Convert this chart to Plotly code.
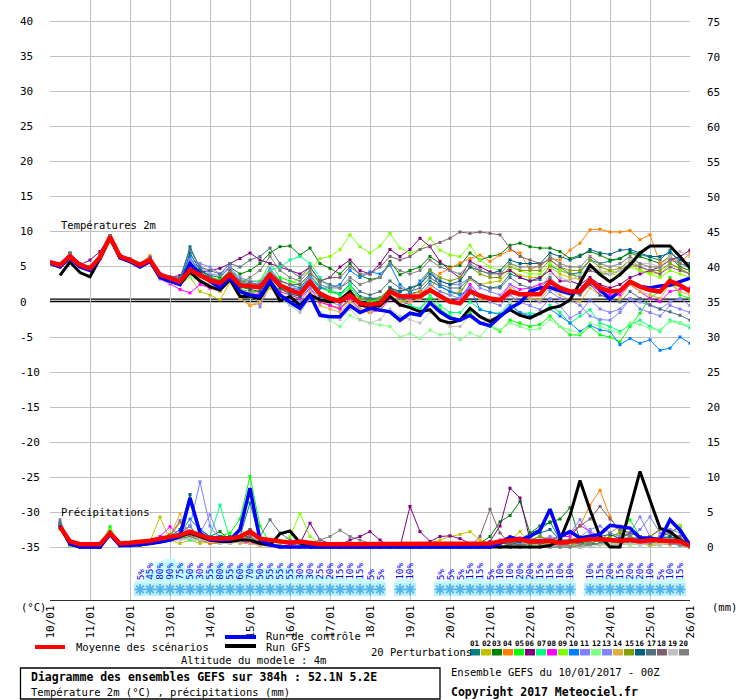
import plotly.graph_objects as go

# forecast steps (hours after 10/01/2017 00Z), one point every 6 h
steps = list(range(0, 385, 6))
day_labels = ['10/01', '11/01', '12/01', '13/01', '14/01', '15/01', '16/01', '17/01', '18/01',
              '19/01', '20/01', '21/01', '22/01', '23/01', '24/01', '25/01', '26/01']

# ---- 2 m temperature (deg C) ----
temp_mean = [5.7, 5.3, 6.5, 5.3, 4.8, 6.4, 9.3, 6.5, 6.0, 5.3, 6.0, 3.9, 3.4,
             2.9, 4.6, 3.9, 3.1, 2.7, 3.9, 2.4, 2.2, 2.1, 3.9, 2.4, 1.7, 1.2,
             2.9, 1.2, 0.5, 0.1, 1.0, -0.2, -0.4, -0.2, 1.5, 0.8, 0.8, 0.8, 1.7,
             0.8, 0.05, -0.2, 1.5, 0.9, 0.5, 0.3, 1.5, 1.1, 1.1, 1.1, 2.9, 2.0,
             1.5, 1.5, 3.1, 2.0, 1.5, 1.6, 2.9, 2.2, 1.7, 1.5, 3.0, 2.4, 1.5]
temp_control = [5.5, 5.0, 6.3, 5.0, 4.5, 6.2, 9.3, 6.3, 5.8, 5.0, 5.8, 3.5, 3.0,
                2.5, 5.5, 4.0, 3.0, 2.0, 3.5, 1.5, 1.0, 0.8, 3.0, 1.0, 0.0, -0.9,
                1.0, -1.9, -2.1, -2.1, -0.5, -1.5, -0.9, -1.1, -1.4, -2.6, -1.6, -1.9, -0.1,
                -1.4, -2.3, -2.6, -1.9, -3.0, -3.4, -2.1, -0.9, -0.1, 1.5, 2.0, 2.1, 1.6,
                1.2, 1.6, 3.1, 1.8, 0.4, 1.6, 2.9, 2.2, 2.0, 2.3, 2.4, 2.9, 3.4]
temp_gfs = [None, 3.8, 5.7, 4.2, 3.6, 6.2, 9.2, 6.3, 5.8, 5.2, 5.9, 3.6, 3.0,
            2.5, 4.3, 3.0, 2.2, 1.7, 3.2, 0.8, 0.8, 0.5, 2.8, 0.2, 0.8, -0.5,
            1.0, 0.3, 0.0, 0.3, 1.5, -0.4, -0.7, -0.5, 0.8, -0.4, -0.8, -1.4, -1.1,
            -2.6, -3.0, -2.6, -0.9, -2.1, -2.8, -1.9, -1.1, -1.9, -2.3, -1.6, -0.9, -0.6,
            0.3, 2.7, 5.3, 3.9, 2.9, 3.9, 5.3, 7.0, 8.0, 8.0, 8.0, 6.5, 4.8]

temp_p01 = [5.6, 5.4, 6.8, 5.4, 4.7, 6.6, 9.5, 6.6, 6.1, 5.2, 6.2, 3.7, 3.2,
            3.1, 7.9, 4.8, 3.6, 3.0, 4.4, 2.8, 2.6, 2.5, 4.5, 3.0, 2.5, 2.0,
            3.8, 2.2, 1.5, 1.2, 2.5, 0.8, 0.5, 0.6, 2.0, 1.0, 1.2, 1.5, 3.0,
            2.2, 1.5, 1.2, 3.5, 2.5, 2.0, 2.2, 4.0, 3.5, 3.0, 3.2, 5.2, 4.5,
            4.0, 4.2, 6.0, 5.5, 5.8, 6.2, 7.2, 6.8, 6.5, 6.0, 7.4, 5.5, 5.0]
temp_p02 = [5.5, 5.2, 6.4, 5.2, 4.6, 6.3, 9.0, 6.3, 5.8, 5.2, 5.9, 3.5, 2.8,
            2.5, 3.5, 1.5, 1.0, 0.3, 2.8, 1.5, 1.2, 1.5, 3.5, 2.0, 1.0, 0.5,
            2.5, 0.5, -0.5, -1.0, 0.2, -1.2, -1.5, -1.0, 1.0, 0.0, 0.5, 1.0, 2.5,
            1.5, 1.0, 1.5, 3.2, 2.5, 2.8, 3.0, 4.5, 3.8, 3.5, 3.5, 5.0, 4.0,
            3.5, 3.2, 5.0, 4.2, 4.5, 4.0, 5.5, 4.5, 4.2, 4.0, 5.5, 4.8, 4.0]
temp_p03 = [5.6, 5.1, 6.4, 5.2, 4.7, 6.3, 9.1, 6.4, 5.9, 5.1, 6.0, 3.6, 3.3,
            3.0, 5.5, 4.5, 3.8, 3.5, 5.0, 4.0, 4.5, 5.5, 7.0, 7.9, 8.0, 6.7,
            7.7, 5.5, 4.8, 4.0, 5.5, 3.8, 3.2, 3.5, 5.8, 3.9, 4.5, 5.0, 6.5,
            5.5, 5.0, 5.2, 7.0, 6.0, 6.5, 6.8, 8.1, 8.4, 7.9, 7.7, 7.7, 7.2,
            6.2, 6.7, 7.2, 6.7, 6.0, 6.2, 7.0, 6.5, 6.0, 5.5, 6.5, 5.0, 4.5]
temp_p04 = [5.7, 5.4, 6.6, 5.4, 4.9, 6.8, 9.4, 6.7, 6.2, 5.5, 6.6, 3.8, 3.2,
            2.5, 4.0, 3.0, 2.0, 1.5, 3.0, 0.5, -0.5, -0.2, 2.5, 0.8, 0.0, -0.3,
            1.5, 0.0, -0.5, -0.8, 0.5, -0.3, -0.5, 0.5, 1.5, 0.5, 1.0, 1.5, 1.7,
            4.1, 4.8, 5.6, 6.2, 6.7, 5.8, 6.7, 7.4, 7.0, 4.6, 5.3, 6.2, 6.0,
            7.4, 8.4, 10.3, 10.4, 10.0, 10.0, 10.2, 8.9, 9.6, 5.5, 6.5, 5.5, 7.0]
temp_p05 = [5.8, 5.5, 6.7, 5.5, 5.0, 6.6, 9.0, 6.4, 6.0, 5.4, 6.1, 4.0, 3.5,
            3.0, 5.0, 4.0, 3.5, 3.2, 4.5, 3.2, 3.0, 3.0, 5.5, 3.5, 3.0, 2.5,
            4.0, 2.0, 1.5, 1.0, 2.0, 0.5, 0.0, 0.5, 2.0, 0.5, -0.5, -1.0, 0.5,
            -1.0, -2.0, -2.5, -1.5, -3.0, -3.5, -4.2, -2.6, -3.0, -3.5, -3.2, -2.0, -3.5,
            -4.7, -4.7, -3.5, -4.7, -5.0, -5.7, -3.5, -1.6, 0.6, 1.5, 3.5, 1.0, 0.5]
temp_p06 = [5.6, 5.2, 6.9, 5.3, 6.0, 7.2, 9.5, 6.6, 6.1, 5.4, 6.3, 4.0, 3.5,
            3.8, 4.5, 4.2, 4.5, 4.8, 5.5, 6.2, 7.0, 6.0, 5.5, 5.0, 4.5, 4.0,
            5.0, 3.0, 3.5, 5.0, 6.0, 4.5, 4.0, 5.5, 7.5, 6.5, 7.5, 9.1, 7.9,
            5.8, 4.5, 3.4, 5.8, 5.0, 4.3, 4.0, 4.5, 3.5, 3.0, 3.5, 4.5, 3.0,
            3.0, 2.5, 3.5, 2.5, 2.0, 2.5, 3.5, 4.0, 4.5, 5.0, 6.0, 6.5, 7.4]
temp_p07 = [5.5, 5.3, 6.5, 5.1, 4.7, 6.4, 9.2, 6.5, 6.0, 5.3, 6.0, 3.5, 3.0,
            2.8, 5.0, 3.5, 3.0, 2.5, 4.0, 2.0, 2.0, 2.5, 4.5, 5.0, 6.0, 6.5,
            5.5, 3.5, 2.0, 1.0, 2.5, 0.5, 0.0, 0.3, 2.0, 0.5, -0.5, -1.0, 1.0,
            -0.5, -1.5, -1.5, 0.0, -1.0, -1.5, -1.6, 0.0, -1.6, -1.6, -1.7, -0.5, -1.5,
            -3.0, -2.0, -1.1, -3.0, -3.5, -4.2, -3.3, -2.6, -3.5, -4.2, -2.6, -3.0, -3.7]
temp_p08 = [5.7, 5.3, 6.5, 5.2, 4.8, 6.2, 9.2, 6.4, 5.9, 5.3, 5.9, 3.3, 2.6,
            1.8, 1.3, 2.5, 2.0, 1.8, 3.0, 1.5, 1.0, 1.2, 3.0, 1.5, 1.0, 0.5,
            2.0, 0.0, -0.5, -1.0, 0.5, -1.0, -1.5, -1.2, 0.5, -0.5, 0.0, 0.5, 1.5,
            0.5, 0.0, 0.5, 2.5, 1.0, 0.5, 0.5, 2.5, 1.8, 2.0, 2.5, 3.1, 2.0,
            1.5, 1.2, 2.5, 1.5, 1.0, 1.0, 2.5, 1.5, 0.5, 0.05, 1.5, 1.8, 2.0]
temp_p09 = [5.6, 5.3, 6.6, 5.3, 4.8, 6.3, 9.3, 6.5, 6.0, 5.3, 6.0, 3.8, 3.3,
            2.7, 4.5, 3.8, 3.0, 2.5, 3.5, 2.0, 2.0, 2.5, 4.0, 3.0, 2.5, 3.5,
            4.5, 6.2, 6.5, 7.5, 9.6, 7.9, 7.0, 8.0, 9.8, 7.7, 7.0, 7.5, 9.1,
            7.4, 6.7, 6.5, 8.1, 6.0, 5.0, 4.5, 5.5, 4.5, 4.0, 4.0, 5.5, 4.5,
            4.0, 3.8, 5.0, 4.2, 4.0, 3.8, 5.0, 4.5, 4.0, 3.5, 4.5, 4.0, 3.5]
temp_p10 = [5.6, 5.2, 6.4, 5.3, 4.8, 6.4, 9.3, 6.4, 5.9, 5.2, 5.9, 3.7, 3.3,
            2.8, 6.5, 4.0, 3.2, 2.8, 3.8, 2.5, 2.2, 2.0, 3.5, 2.5, 2.0, 1.8,
            3.5, 2.0, 2.0, 2.5, 4.5, 3.5, 4.3, 4.0, 5.3, 2.5, 1.3, 3.0, 4.6,
            2.2, 1.5, 1.0, 2.0, -1.1, -1.5, -1.8, -0.5, -1.5, -2.0, -1.6, -1.0, -2.0,
            -3.0, -4.2, -3.3, -4.0, -4.2, -6.1, -5.2, -5.9, -5.4, -6.9, -6.6, -5.0, -5.9]
temp_p11 = [5.6, 5.3, 6.5, 5.3, 4.8, 6.4, 9.2, 6.5, 6.0, 5.3, 6.0, 3.8, 3.6,
            3.5, 6.0, 5.5, 5.0, 4.0, 5.0, 3.0, 2.0, -0.7, 2.5, 1.0, 0.5, 0.0,
            2.0, 0.5, 0.0, -0.5, 1.0, -0.5, -1.0, -0.5, 1.5, 0.5, 0.5, 1.0, 2.5,
            1.5, 1.0, 0.5, 2.0, 1.0, 0.0, -0.5, 1.0, 0.0, -0.5, -1.1, 0.5, -0.5,
            -2.3, -1.5, 0.3, -1.0, -1.5, -1.0, 0.5, -1.0, -1.5, -2.0, -0.5, -1.0, -1.5]
temp_p12 = [5.5, 5.0, 6.3, 5.1, 4.6, 6.2, 8.5, 6.3, 5.8, 5.1, 5.8, 3.4, 2.8,
            2.5, 3.5, 3.0, 2.5, 2.0, 3.0, 1.5, 1.0, 0.5, 2.0, 0.5, -0.5, -1.0,
            0.5, -1.5, -2.6, -3.5, -1.9, -2.6, -3.0, -3.3, -3.5, -5.0, -4.5, -5.2, -4.0,
            -4.7, -4.5, -5.4, -4.4, -5.0, -3.3, -4.0, -3.0, -3.5, -4.0, -3.8, -2.5, -3.5,
            -4.0, -4.5, -3.0, -3.5, -4.0, -4.5, -3.0, -3.2, -3.8, -4.0, -2.8, -3.0, -3.3]
temp_p13 = [5.7, 5.4, 6.6, 5.4, 4.9, 6.5, 9.4, 6.6, 6.1, 5.4, 6.1, 4.0, 3.5,
            3.2, 5.8, 5.0, 4.0, 3.8, 4.8, 3.5, 3.0, 2.8, 4.8, 3.0, 2.5, 1.5,
            3.5, 1.0, 0.5, 0.0, 1.5, -0.5, -1.0, -0.8, 1.5, 1.5, 2.0, 2.5, 4.5,
            3.0, 2.5, 2.5, 3.5, 2.0, 1.5, 1.0, 2.5, 1.0, 0.5, 0.0, 1.5, 0.5,
            0.3, -0.5, -2.0, -2.5, -2.6, -1.5, 0.5, 0.0, -0.5, -1.0, 0.0, 0.5, -0.5]
temp_p14 = [5.6, 5.2, 6.4, 5.2, 4.7, 6.3, 9.2, 6.4, 5.9, 5.2, 6.2, 3.5, 3.0,
            2.6, 4.0, 3.0, 2.5, 1.5, 2.8, 0.5, -0.4, 0.0, 2.0, 0.5, 0.0, -0.5,
            1.5, -0.5, -1.0, -1.5, 0.0, -1.0, -1.5, -1.0, 1.0, 0.0, 0.0, 0.5, 2.0,
            0.5, 0.0, 0.0, 1.5, 0.5, 0.3, 0.5, 2.0, 1.0, 0.5, 0.3, 2.0, 1.0,
            0.3, 0.0, 2.0, 1.0, 0.5, 0.5, 2.5, 1.5, 1.0, 0.5, 2.5, 1.5, 1.0]
temp_p15 = [5.6, 5.3, 6.5, 5.3, 4.8, 6.4, 9.2, 6.5, 6.0, 5.3, 6.0, 3.8, 3.2,
            2.8, 4.5, 3.5, 2.8, 2.2, 3.5, 1.8, 1.5, 1.5, 3.2, 1.8, 1.2, 0.8,
            2.5, 1.0, 0.5, 0.5, 1.5, 0.5, 0.2, 0.5, 2.0, 1.5, 2.0, 2.5, 4.5,
            3.5, 3.0, 3.5, 5.0, 4.0, 3.5, 3.5, 5.0, 4.5, 4.5, 4.5, 6.0, 5.0,
            4.5, 4.5, 6.0, 5.0, 4.5, 4.8, 6.0, 5.0, 4.5, 4.5, 5.5, 4.8, 4.0]
temp_p16 = [5.5, 5.2, 6.6, 5.3, 4.7, 6.3, 9.3, 6.4, 5.9, 5.3, 6.0, 3.7, 3.2,
            2.8, 7.0, 4.5, 3.5, 2.8, 4.0, 2.2, 1.8, 1.5, 3.5, 2.0, 1.2, 0.8,
            2.5, 0.8, 0.2, 0.0, 1.0, 0.0, -0.3, 0.0, 2.0, 1.5, 2.0, 2.5, 4.0,
            3.0, 2.5, 3.0, 5.0, 4.5, 4.0, 4.5, 6.0, 5.5, 5.5, 5.5, 7.0, 6.5,
            6.0, 6.5, 7.5, 7.0, 6.8, 7.4, 7.5, 7.0, 6.5, 6.5, 7.0, 6.0, 5.5]
temp_p17 = [5.7, 5.4, 7.0, 5.5, 5.0, 6.6, 9.5, 6.6, 6.1, 5.4, 6.4, 4.0, 3.6,
            3.5, 7.5, 5.0, 4.5, 4.0, 5.5, 5.0, 6.0, 6.5, 7.7, 5.5, 4.5, 3.5,
            5.0, 3.0, 2.5, 2.0, 3.0, 1.5, 1.0, 1.5, 3.0, 2.0, 1.5, 2.0, 3.5,
            2.5, 2.0, 2.0, 3.5, 2.5, 2.0, 2.0, 3.5, 2.5, 2.0, 2.0, 3.5, 2.0,
            1.5, 1.0, 2.5, 1.0, 0.5, 0.0, 1.5, 0.5, -0.4, -1.0, -1.4, -1.9, -2.6]
temp_p18 = [5.8, 5.5, 7.0, 5.4, 5.0, 6.6, 9.4, 6.6, 6.0, 5.4, 6.2, 3.9, 3.4,
            3.0, 4.8, 4.0, 3.5, 3.0, 4.5, 3.0, 2.8, 2.5, 4.0, 3.0, 2.5, 2.5,
            4.0, 3.0, 3.5, 3.5, 5.0, 4.0, 4.0, 5.0, 6.5, 6.0, 6.5, 7.5, 8.0,
            8.5, 9.1, 10.0, 9.8, 10.0, 9.8, 9.6, 7.7, 6.5, 6.0, 5.5, 6.0, 5.0,
            4.0, 3.5, 4.5, 4.0, 4.0, 4.5, 5.5, 5.0, 4.5, 4.0, 5.0, 4.5, 4.0]
temp_p19 = [5.6, 5.3, 6.5, 5.3, 4.8, 6.3, 9.1, 6.5, 6.0, 5.3, 6.0, 3.6, 3.1,
            2.8, 4.0, 3.2, 2.5, 2.0, 3.0, 1.2, 0.8, 0.5, 2.5, 0.5, -0.5, -1.5,
            0.5, -1.5, -2.0, -2.5, -1.0, -2.5, -3.0, -2.5, -1.0, -2.0, -2.5, -3.0, -1.5,
            -2.5, -3.5, -3.5, -2.0, -3.0, -2.5, -2.0, 0.0, 1.0, 1.5, 2.0, 4.0, 3.5,
            3.0, 3.9, 5.0, 4.5, 4.0, 4.5, 6.0, 5.5, 5.5, 5.0, 6.5, 7.2, 6.5]
temp_p20 = [5.7, 5.4, 6.8, 5.4, 4.9, 6.5, 9.4, 6.6, 6.1, 5.4, 6.2, 3.9, 3.4,
            3.0, 5.0, 4.0, 3.2, 2.8, 4.2, 2.8, 3.5, 4.5, 6.5, 4.5, 3.5, 3.0,
            4.5, 2.5, 2.0, 2.0, 3.5, 2.5, 3.0, 3.5, 5.5, 4.5, 4.0, 4.5, 6.0,
            5.0, 4.5, 4.0, 5.5, 4.5, 4.0, 4.0, 5.5, 5.0, 5.0, 5.0, 6.5, 5.5,
            5.0, 5.0, 6.5, 5.5, 5.0, 5.5, 6.5, 5.5, 5.0, 5.0, 6.0, 5.5, 5.0]

# ---- precipitation (mm / 6 h) ----
prec_mean = [None, 2.9, 0.8, 0.4, 0.4, 0.4, 2.0, 0.5, 0.6, 0.7, 0.9, 1.2, 1.5,
             1.7, 2.2, 1.7, 1.2, 1.2, 1.2, 1.5, 2.2, 1.2, 1.0, 0.8, 0.6, 0.8,
             0.6, 0.4, 0.4, 0.4, 0.4, 0.4, 0.5, 0.4, 0.4, 0.4, 0.5, 0.4, 0.4,
             0.4, 0.4, 0.4, 0.4, 0.4, 0.5, 0.8, 0.9, 1.1, 0.8, 0.8, 0.9, 0.6,
             0.8, 1.0, 1.1, 1.1, 1.0, 0.9, 1.0, 0.8, 1.0, 0.9, 0.9, 0.8, 0.2]
prec_control = [None, 3.0, 0.5, 0, 0, 0, 1.8, 0.2, 0.2, 0.3, 0.5, 0.7, 1.0,
                1.5, 7.0, 2.0, 1.0, 1.0, 1.0, 2.5, 8.4, 1.0, 0.3, 0, 0, 0,
                0, 0, 0, 0, 0, 0, 0, 0, 0, 0, 0, 0, 0,
                0, 0, 0, 0, 0, 0, 0.5, 1.4, 1.0, 1.5, 2.4, 5.4, 1.5,
                2.2, 1.3, 1.5, 1.8, 3.1, 2.9, 2.7, 1.3, 1.3, 1.0, 3.9, 2.4, 0.3]
prec_gfs = [None, 3.0, 0.4, 0, 0, 0, 2.0, 0.2, 0.3, 0.3, 0.5, 0.8, 1.0,
            1.5, 2.0, 1.5, 1.0, 0.8, 0.8, 1.0, 1.0, 0.5, 0.3, 1.9, 2.3, 0.6,
            0, 0, 0, 0, 0, 0, 0, 0, 0, 0, 0, 0, 0,
            0, 0, 0, 0, 0, 0, 0, 0, 0, 0, 0, 0.2, 1.0,
            4.5, 9.5, 5.3, 1.5, 0, 0, 5.5, 10.8, 6.7, 2.7, 2.2, 1.0, 0.3]

prec_p01 = [None, 3.2, 0.3, 0, 0, 0, 1.8, 0.2, 0.3, 0.5, 0.8, 1.0, 1.5,
            2.0, 3.0, 1.0, 0.5, 1.0, 0.5, 1.5, 6.3, 1.0, 0.5, 0.2, 0, 0,
            0, 0, 0, 0, 0, 0, 0, 0, 0, 0, 0, 0, 0,
            0, 0, 0, 0, 0, 0, 0.5, 0.5, 1.0, 2.0, 2.5, 3.6, 1.0,
            0.8, 0.5, 1.0, 1.5, 1.0, 0.5, 1.5, 1.0, 0.5, 1.0, 1.5, 1.0, 0]
prec_p02 = [None, 2.8, 0.3, 0, 0, 0, 1.5, 0.1, 0.2, 0.4, 0.8, 4.3, 1.0,
            0.5, 1.0, 0.5, 0.8, 0.5, 0.5, 1.0, 1.5, 0.5, 0.2, 0, 0, 0,
            0, 0, 0, 0, 0, 0, 0, 0, 0, 0, 0, 0, 0.5,
            1.0, 1.5, 1.8, 2.2, 1.0, 0.5, 0.5, 1.0, 2.2, 0.5, 0.3, 0.5, 0.3,
            0.2, 0.2, 0.5, 0.3, 0.2, 0.5, 0.3, 0.5, 0.2, 0.3, 0.5, 0.3, 0]
prec_p03 = [None, 3.0, 0.2, 0, 0, 0, 2.2, 0.2, 0.3, 0.3, 0.5, 0.8, 1.2,
            1.5, 2.0, 1.5, 1.5, 2.2, 1.0, 1.5, 1.5, 0.5, 0.2, 0, 0, 0,
            0, 0, 0, 0, 0, 0, 0, 0, 0, 0, 0, 0, 0,
            0, 0, 0, 0, 0.5, 1.5, 3.6, 4.5, 6.5, 2.0, 3.0, 3.5, 4.0,
            5.6, 1.0, 0.5, 0.5, 0.3, 0.5, 1.0, 0.5, 0.3, 0.5, 1.0, 0.5, 0]
prec_p04 = [None, 3.0, 0.3, 0, 0, 0, 2.0, 0.1, 0.2, 0.3, 0.5, 1.0, 1.5,
            3.5, 1.5, 1.0, 0.5, 0.5, 1.0, 2.5, 1.5, 0.5, 0.2, 0.1, 0, 0,
            0, 0, 0, 0, 0, 0, 0, 0, 0, 0, 0, 0, 0,
            0, 0, 0, 0, 0, 0, 0, 0, 0.5, 0.3, 0.5, 0.8, 1.5,
            2.0, 3.0, 6.0, 8.1, 4.3, 2.0, 0.5, 1.0, 1.5, 0.5, 0.3, 0.5, 0]
prec_p05 = [None, 2.5, 0.2, 0, 0, 0, 2.9, 0.1, 0.2, 0.3, 0.5, 0.8, 1.0,
            1.5, 2.0, 1.5, 1.0, 1.5, 2.0, 4.0, 10.1, 3.0, 0.5, 0.2, 0, 0,
            0, 0, 0, 0, 0, 0, 0, 0, 0, 0, 0, 0, 0,
            0, 0, 0, 0, 0, 0, 0, 0, 0.5, 0.3, 0.5, 0.5, 0.5,
            0.5, 0.5, 0.5, 1.0, 1.5, 2.0, 3.9, 1.5, 0.5, 1.0, 0.5, 0.3, 0]
prec_p06 = [None, 2.8, 0.3, 0, 0, 0, 1.5, 0.2, 0.2, 0.3, 0.5, 0.8, 1.8,
            1.5, 1.8, 1.0, 0.8, 1.0, 1.2, 1.0, 0.8, 0.3, 0.2, 0.1, 0.3, 0.5,
            3.4, 1.0, 0.5, 0.3, 1.0, 1.5, 2.2, 1.0, 0, 0, 5.8, 2.2, 0.8,
            1.5, 1.6, 1.2, 0.5, 0.3, 0.8, 3.0, 8.4, 7.0, 1.0, 0.5, 0.3, 0.3,
            0.3, 0.5, 0.3, 0.5, 1.0, 0.5, 1.0, 0.5, 1.5, 2.5, 2.0, 3.0, 0]
prec_p07 = [None, 2.6, 0.2, 0, 0, 0, 2.0, 0.2, 0.3, 0.5, 0.8, 1.0, 1.2,
            1.5, 1.0, 1.0, 1.5, 6.0, 1.0, 1.5, 2.0, 1.0, 0.3, 0, 0, 0,
            0, 0, 0, 0, 0, 0, 0, 0, 0, 0, 0, 0, 0,
            0, 0, 0, 0, 0, 0, 0, 0, 0, 0.5, 0.3, 0.5, 0.5,
            0.5, 0.3, 0.5, 1.0, 0.5, 0.3, 0.5, 0.3, 0.5, 0.3, 0.5, 0.3, 0]
prec_p08 = [None, 3.0, 0.3, 0, 0, 0, 1.8, 0.2, 0.3, 0.5, 0.8, 1.5, 2.9,
            1.5, 1.5, 1.0, 1.0, 0.8, 1.0, 0.8, 0.5, 0.3, 0.1, 0, 0, 0,
            0, 0, 0, 0, 0, 0, 0, 0, 0, 0, 0, 0, 0,
            0, 0, 0, 0, 0.3, 0.5, 1.0, 1.5, 1.3, 1.0, 0.8, 1.0, 1.5,
            1.5, 3.1, 2.2, 1.5, 1.0, 1.5, 1.0, 0.5, 0.5, 1.0, 0.5, 0.3, 0]
prec_p09 = [None, 2.5, 0.2, 0, 0, 0, 2.5, 0.1, 0.2, 0.3, 0.5, 0.8, 1.0,
            1.5, 1.5, 1.2, 1.0, 1.5, 1.0, 1.0, 2.0, 0.5, 0.2, 0.5, 1.5, 4.8,
            1.5, 0.5, 0, 0, 0, 0, 0, 0, 0, 0, 0, 0, 0,
            0, 0, 0, 0, 0, 0, 0, 0, 0, 0, 0, 0, 0,
            0, 0, 0.3, 0.5, 1.0, 0.5, 1.5, 1.0, 0.5, 1.0, 1.5, 3.1, 0]
prec_p10 = [None, 3.5, 0.3, 0, 0, 0, 1.5, 0.2, 0.3, 0.5, 0.8, 1.2, 1.5,
            2.0, 4.0, 2.5, 1.5, 1.5, 1.2, 1.5, 2.0, 0.5, 0.2, 0, 0, 0,
            0, 0, 0, 0, 0, 0, 0, 0, 0, 0, 0, 0, 0,
            0, 0, 0, 0, 0, 0, 0, 0.5, 0.8, 1.0, 1.5, 1.0, 0.5,
            0.5, 1.0, 1.5, 1.0, 0.5, 1.0, 0.5, 1.0, 1.5, 0.5, 0.5, 0.3, 0]
prec_p11 = [None, 2.8, 0.3, 0, 0, 0, 1.8, 0.2, 0.2, 0.3, 0.5, 1.0, 1.5,
            2.0, 3.0, 9.3, 3.0, 1.0, 0.8, 1.0, 1.5, 0.5, 0.2, 0, 0, 0,
            0, 0, 0, 0, 0, 0, 0, 0, 0, 0, 0, 0, 0,
            0, 0, 0, 0, 0, 0, 0, 0.5, 0.5, 1.0, 0.5, 1.0, 1.5,
            2.0, 3.9, 2.0, 1.0, 0.5, 1.0, 1.5, 2.5, 4.3, 2.0, 1.0, 0.5, 0]
prec_p12 = [None, 3.0, 0.2, 0, 0, 0, 2.0, 0.2, 0.2, 0.3, 0.5, 0.8, 1.0,
            1.2, 1.5, 1.0, 1.0, 1.2, 1.0, 1.5, 2.0, 0.5, 0.2, 0, 0, 0,
            0, 0, 0, 0, 0, 0, 0, 0, 0, 0, 0, 0, 0,
            0, 0, 0, 0, 0, 0, 0, 0, 0, 0, 0, 0, 0,
            0, 0, 0.3, 0.5, 0.3, 0.5, 0.3, 0.5, 0.3, 0.5, 1.0, 0.5, 0]
prec_p13 = [None, 3.2, 0.3, 0, 0, 0, 1.8, 0.2, 0.3, 0.5, 0.8, 1.0, 1.2,
            1.5, 2.0, 2.0, 4.6, 1.0, 0.8, 1.0, 1.5, 0.5, 0.2, 0, 0, 0,
            0, 0, 0, 0, 0, 0, 0, 0, 0, 0, 0, 0, 0,
            0, 0, 0, 0, 0, 0, 0, 0.3, 0.5, 0.8, 1.0, 1.5, 1.0,
            0.8, 1.5, 2.5, 3.0, 2.0, 1.5, 2.0, 4.3, 1.5, 1.0, 2.5, 2.0, 0]
prec_p14 = [None, 2.7, 0.2, 0, 0, 0, 1.6, 0.1, 0.2, 0.3, 0.5, 1.0, 1.5,
            4.8, 1.5, 1.0, 0.8, 0.8, 1.0, 0.5, 0.5, 0.2, 0.1, 0, 0, 0,
            0, 0, 0, 0, 0, 0, 0, 0, 0, 0, 0, 0, 0,
            0, 0, 0, 0, 0, 0, 0, 0, 0.3, 0.5, 0.3, 0.5, 0.5,
            0.5, 0.3, 0.5, 1.0, 0.5, 0.3, 1.0, 0.5, 0.3, 0.5, 0.5, 0.3, 0]
prec_p15 = [None, 2.9, 0.2, 0, 0, 0, 1.8, 0.2, 0.3, 0.5, 0.8, 1.2, 1.8,
            1.5, 2.0, 1.5, 1.2, 1.0, 0.8, 1.5, 1.0, 0.5, 0.2, 0, 0, 0,
            0, 0, 0, 0, 0, 0, 0, 0, 0, 0, 0, 0, 0,
            0, 0, 0, 0, 0, 0, 0, 0.5, 0.8, 1.0, 1.5, 1.0, 0.8,
            1.0, 1.5, 1.0, 0.8, 1.5, 2.0, 1.5, 1.0, 1.5, 2.5, 1.5, 1.0, 0]
prec_p16 = [None, 3.0, 0.3, 0, 0, 0, 2.0, 0.2, 0.3, 0.5, 0.8, 1.2, 1.5,
            2.5, 7.5, 2.5, 1.5, 1.5, 1.5, 1.5, 2.5, 0.8, 0.2, 0, 0, 0,
            0, 0, 0, 0, 0, 0, 0, 0, 0, 0, 0, 0, 0,
            0, 0, 0, 0, 0, 0, 0, 0.3, 0.8, 1.5, 2.0, 2.5, 1.0,
            1.0, 0.8, 1.2, 1.5, 1.8, 1.2, 2.0, 1.5, 1.0, 1.2, 1.5, 1.0, 0]
prec_p17 = [None, 3.4, 0.3, 0, 0, 0, 2.0, 0.2, 0.3, 0.4, 0.6, 1.0, 1.2,
            1.5, 2.0, 1.5, 1.5, 1.0, 1.0, 1.5, 2.5, 1.5, 3.9, 2.0, 1.0, 0.5,
            0.2, 0, 0, 0, 0, 0, 0, 0, 0, 0, 0, 0, 0,
            0, 0, 0, 0, 0, 0, 0, 0, 0, 0, 0, 0, 0,
            0, 0, 0.3, 0.5, 1.0, 0.8, 1.0, 1.5, 1.0, 0.8, 1.0, 1.5, 0]
prec_p18 = [None, 3.0, 0.3, 0, 0, 0, 1.8, 0.2, 0.3, 0.5, 0.5, 0.8, 1.0,
            1.2, 1.5, 1.0, 1.0, 0.8, 1.0, 1.0, 1.5, 0.5, 0.2, 0, 0, 0,
            0, 0, 0, 0, 0, 0, 0, 0, 0, 0, 0, 0, 0,
            0, 0, 0, 0, 1.5, 5.4, 2.0, 0.5, 0.3, 0.5, 0.5, 1.0, 1.5,
            2.0, 3.0, 4.0, 5.8, 4.0, 2.5, 2.0, 1.5, 1.0, 1.5, 2.0, 1.5, 0]
prec_p19 = [None, 2.6, 0.2, 0, 0, 0, 1.5, 0.1, 0.2, 0.3, 0.5, 0.8, 1.0,
            1.0, 1.2, 1.0, 0.8, 0.5, 0.5, 0.8, 1.0, 0.3, 0.1, 0, 0, 0,
            0, 0, 0, 0, 0, 0, 0, 0, 0, 0, 0, 0, 0,
            0, 0, 0, 0, 0, 0, 0, 0, 0, 0, 0, 0, 0,
            0, 0, 0, 0.3, 0.5, 0.3, 0.5, 0.3, 0.5, 0.3, 0.5, 0.3, 0]
prec_p20 = [None, 3.9, 0.4, 0, 0, 0, 2.2, 0.2, 0.3, 0.5, 0.8, 1.0, 1.5,
            3.8, 2.0, 1.5, 1.2, 1.0, 1.0, 1.5, 2.0, 1.0, 0.5, 0.2, 0, 0,
            0.5, 1.0, 1.5, 2.4, 1.5, 1.0, 0.5, 0.3, 0, 0, 0, 0, 0,
            0, 0, 0, 0, 0, 0, 0, 0, 0, 0, 0, 0, 0,
            0, 0.3, 0.5, 1.0, 2.0, 3.0, 1.5, 1.0, 0.5, 1.0, 0.5, 0.3, 0]

# probability of precipitation (%) written under the chart
precip_prob = [None, None, None, None, None, None, None, None, None, 5, 45, 80, 90,
               75, 50, 30, 55, 80, 55, 60, 70, 50, 55, 55, 55, 30,
               30, 25, 20, 15, 10, 15, 5, 5, None, 10, 10, None, None,
               5, 5, 5, 15, 15, 5, 10, 10, 20, 20, 15, 15, 10, 10,
               None, 10, 15, 20, 15, 20, 20, 10, 5, 10, 15, None]

pert_names = ['01', '02', '03', '04', '05', '06', '07', '08', '09', '10',
              '11', '12', '13', '14', '15', '16', '17', '18', '19', '20']
pert_colors = ['#008080', '#c0c000', '#008000', '#ff8000', '#00ff00', '#800080', '#00ff80',
               '#ff00ff', '#80ff00', '#0080ff', '#8080ff', '#80ff80', '#8484ff', '#e0b040',
               '#80a000', '#006080', '#507080', '#806070', '#c0c0c0', '#808080']
temp_perts = [temp_p01, temp_p02, temp_p03, temp_p04, temp_p05, temp_p06, temp_p07,
              temp_p08, temp_p09, temp_p10, temp_p11, temp_p12, temp_p13, temp_p14,
              temp_p15, temp_p16, temp_p17, temp_p18, temp_p19, temp_p20]
prec_perts = [prec_p01, prec_p02, prec_p03, prec_p04, prec_p05, prec_p06, prec_p07,
              prec_p08, prec_p09, prec_p10, prec_p11, prec_p12, prec_p13, prec_p14,
              prec_p15, prec_p16, prec_p17, prec_p18, prec_p19, prec_p20]

# ---------------- layout helpers (pixels -> paper) ----------------
W, H = 740, 700
ML, MR, MT, MB = 50, 50, 0, 100
PW, PH = W - ML - MR, H - MT - MB
Y_TOP, Y_BOT = 43.14, -42.57      # 7 px per degree
PRECIP_SHIFT = 35                 # 0 mm sits on -35 deg C
FONT = 'DejaVu Sans Mono'


def px(x):
    return (x - ML) / PW


def py(y):
    return (H - MB - y) / PH


fig = go.Figure()

# ensemble members
for name, col, t, p in zip(pert_names, pert_colors, temp_perts, prec_perts):
    for vals, ax in ((t, 'y'), (p, 'y2')):
        fig.add_trace(go.Scatter(x=steps, y=vals, yaxis=ax, mode='lines+markers',
                                 line=dict(color=col, width=1),
                                 marker=dict(symbol='square', size=3, color=col),
                                 showlegend=False, hoverinfo='skip'))

for vals, ax in ((temp_gfs, 'y'), (prec_gfs, 'y2')):
    fig.add_trace(go.Scatter(x=steps, y=vals, yaxis=ax, mode='lines',
                             line=dict(color='black', width=3), showlegend=False))
for vals, ax in ((temp_control, 'y'), (prec_control, 'y2')):
    fig.add_trace(go.Scatter(x=steps, y=vals, yaxis=ax, mode='lines',
                             line=dict(color='#0000ff', width=3.5), showlegend=False))
for vals, ax in ((temp_mean, 'y'), (prec_mean, 'y2')):
    fig.add_trace(go.Scatter(x=steps, y=vals, yaxis=ax, mode='lines',
                             line=dict(color='#ff0000', width=4.5), showlegend=False))

# precipitation probability strip under the chart
prob_x = [s for s, p in zip(steps, precip_prob) if p is not None]
prob_v = [p for p in precip_prob if p is not None]
fig.add_trace(go.Bar(x=prob_x, y=[v * 0.037 for v in prob_v], base=-40.0, width=6,
                     marker=dict(color='#c4ffff', line=dict(width=0)),
                     showlegend=False, hoverinfo='skip'))

shapes = []
# cyan band behind the snowflake chain, one per run of labelled steps
runs, cur = [], []
for s, p in zip(steps, precip_prob):
    if p is None:
        if cur:
            runs.append(cur)
        cur = []
    else:
        cur.append(s)
if cur:
    runs.append(cur)
for r in runs:
    shapes.append(dict(type='rect', xref='x', yref='y', x0=r[0] - 3.6, x1=r[-1] + 3.6,
                       y0=-42.0, y1=-40.1, fillcolor='#bdeefc', line=dict(width=0), layer='below'))
fig.add_trace(go.Scatter(x=prob_x, y=[-41.05] * len(prob_x), mode='markers',
                         marker=dict(symbol='asterisk-open', size=9, color='#52b4ea',
                                     line=dict(color='#52b4ea', width=1.8)),
                         showlegend=False, hoverinfo='skip'))

# double zero line
for yv in (0.1, 0.4):
    shapes.append(dict(type='line', xref='x', yref='y', x0=0, x1=384, y0=yv, y1=yv,
                       line=dict(color='black', width=1.2), layer='below'))

annotations = []
for s, p in zip(steps, precip_prob):
    if p is not None:
        annotations.append(dict(x=s, y=-40.05, xref='x', yref='y', text=f'{p}%',
                                textangle=-90, showarrow=False, xanchor='center',
                                yanchor='bottom',
                                font=dict(family=FONT, size=9.5, color='#0000ff')))

# left tick labels (left aligned as in the original)
for v in range(-35, 41, 5):
    annotations.append(dict(x=px(18), y=v, xref='paper', yref='y', text=str(v),
                            showarrow=False, xanchor='left', yanchor='middle',
                            font=dict(family=FONT, size=11, color='black')))


def txt(x, y, s, size=10.5, bold=False, anchor='left', color='black'):
    annotations.append(dict(x=px(x), y=py(y), xref='paper', yref='paper',
                            text=f'<b>{s}</b>' if bold else s, showarrow=False,
                            xanchor=anchor, yanchor='middle',
                            font=dict(family=FONT, size=size, color=color)))


txt(59, 225, 'Températures 2m')
txt(59, 512, 'Précipitations')
txt(19, 607, '(°C)')
txt(710, 607, '(mm)')

# legend
for x0, x1, y, col in ((35, 65, 647, '#ff0000'), (225, 256, 637, '#0000ff'), (225, 256, 646, 'black')):
    shapes.append(dict(type='line', xref='paper', yref='paper', x0=px(x0), x1=px(x1),
                       y0=py(y), y1=py(y), line=dict(color=col, width=4)))
txt(74, 647, 'Moyenne des scénarios')
txt(264, 636, 'Run de contrôle')
txt(264, 647, 'Run GFS')
txt(179, 660, 'Altitude du modele : 4m')
txt(369, 652, '20 Perturbations')
for k, (name, col) in enumerate(zip(pert_names, pert_colors)):
    x0 = 470 + 11 * k
    shapes.append(dict(type='rect', xref='paper', yref='paper', x0=px(x0), x1=px(x0 + 10),
                       y0=py(655.5), y1=py(649), fillcolor=col, line=dict(width=0)))
    txt(x0 + 5, 643, name, size=7.5, bold=True, anchor='center')

# footer box
shapes.append(dict(type='rect', xref='paper', yref='paper', x0=px(20.5), x1=px(440),
                   y0=py(699), y1=py(668), line=dict(color='black', width=1.3)))
txt(29, 677, 'Diagramme des ensembles GEFS sur 384h : 52.1N 5.2E', size=11.5, bold=True)
txt(29, 692, 'Température 2m (°C) , précipitations (mm)')
txt(449, 672, 'Ensemble GEFS du 10/01/2017 - 00Z')
txt(449, 692, 'Copyright 2017 Meteociel.fr', size=11.5, bold=True)

fig.update_layout(
    width=W, height=H, margin=dict(l=ML, r=MR, t=MT, b=MB),
    paper_bgcolor='white', plot_bgcolor='white', showlegend=False,
    barmode='overlay',
    xaxis=dict(range=[0, 384], tickvals=steps[::4], ticktext=day_labels, tickangle=-90,
               showgrid=True, gridcolor='#c0c0c0', gridwidth=1, zeroline=False,
               showline=True, linecolor='#303030', linewidth=1, ticks='',
               tickfont=dict(family=FONT, size=11, color='black')),
    yaxis=dict(range=[Y_BOT, Y_TOP], tickvals=list(range(-35, 41, 5)), showticklabels=False,
               showgrid=True, gridcolor='#c0c0c0', gridwidth=1, zeroline=False, ticks=''),
    yaxis2=dict(range=[Y_BOT + PRECIP_SHIFT, Y_TOP + PRECIP_SHIFT], overlaying='y', side='right',
                tickvals=list(range(0, 76, 5)), showgrid=False, zeroline=False, ticks='',
                ticklabelstandoff=16, tickfont=dict(family=FONT, size=11, color='black')),
    shapes=shapes, annotations=annotations,
)

# the page body has an 8px default margin; drop it so the figure fills the window
fig.write_html('out.html', config={'displayModeBar': False},
               post_script="document.body.style.margin='0';")
